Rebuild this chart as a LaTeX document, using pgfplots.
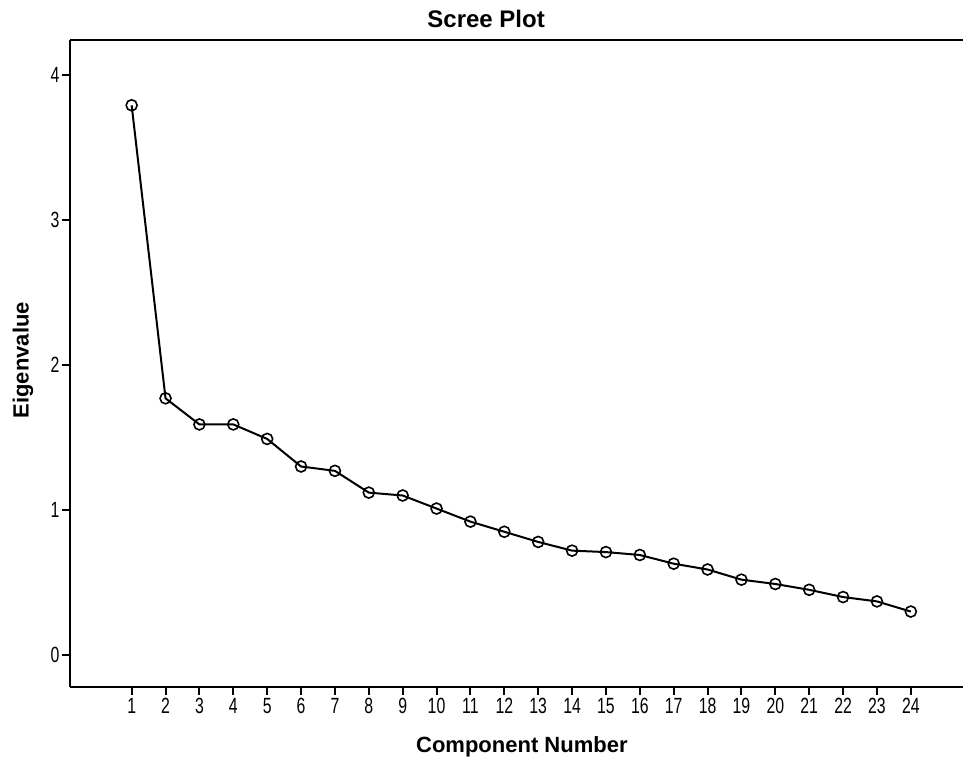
\documentclass[border=0pt]{standalone}
\usepackage{pgfplots}
\pgfplotsset{compat=1.18}
\usepackage{fontspec}
\setmainfont{Liberation Sans}
\begin{document}
\begin{tikzpicture}[x=1pt,y=1pt]
\path[use as bounding box] (0,0) rectangle (963,765);
\begin{axis}[
  at={(70pt,78pt)}, anchor=south west,
  scale only axis, width=893pt, height=647pt,
  xmin=-0.82, xmax=25.54, ymin=-0.22, ymax=4.24,
  axis x line*=box, axis y line*=left,
  axis line style={line width=2pt, black},
  xtick={1,...,24}, ytick={0,1,2,3,4},
  xtick pos=bottom, ytick pos=left,
  tick align=outside, major tick length=8pt,
  tick style={line width=2pt, black},
  /pgf/number format/assume math mode=true,
  tick label style={font=\fontsize{22}{22}\selectfont, xscale=0.72},
  title={Scree Plot},
  title style={at={(0.466,1)}, anchor=base, yshift=6pt, font=\bfseries\fontsize{24}{24}\selectfont},
  xlabel={Component Number},
  xlabel style={at={(0.506,0)}, anchor=base, yshift=-65pt, font=\bfseries\fontsize{22}{22}\selectfont},
  ylabel={Eigenvalue},
  ylabel style={at={(-0.0526,0.505)}, anchor=center, font=\bfseries\fontsize{22}{22}\selectfont},
  clip=false,
]
\addplot[black, line width=2pt, mark=o, mark size=5.5pt, mark options={line width=1.6pt, fill=none}]
coordinates {
(1,3.79) (2,1.77) (3,1.59) (4,1.59) (5,1.49) (6,1.30) (7,1.27) (8,1.12)
(9,1.10) (10,1.01) (11,0.92) (12,0.85) (13,0.78) (14,0.72) (15,0.71) (16,0.69)
(17,0.63) (18,0.59) (19,0.52) (20,0.49) (21,0.45) (22,0.40) (23,0.37) (24,0.30)
};
\end{axis}
\end{tikzpicture}
\end{document}
